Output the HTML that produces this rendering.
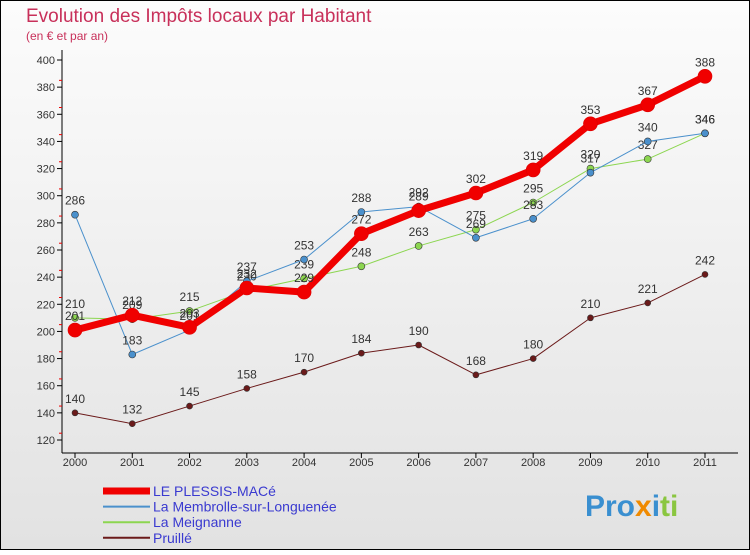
<!DOCTYPE html>
<html><head><meta charset="utf-8"><style>
body{margin:0;width:750px;height:550px;overflow:hidden;font-family:"Liberation Sans",sans-serif}
</style></head><body>
<svg width="750" height="550" xmlns="http://www.w3.org/2000/svg">
<defs><linearGradient id="bg" x1="0" y1="0" x2="0" y2="1"><stop offset="0" stop-color="#fcfcfc"/><stop offset="1" stop-color="#e2e2e2"/></linearGradient></defs>
<rect x="0.5" y="0.5" width="749" height="549" fill="url(#bg)" stroke="#000"/>
<text x="26" y="22" font-size="19" fill="#c8305a">Evolution des Impôts locaux par Habitant</text>
<text x="26" y="40" font-size="12" fill="#c8305a">(en € et par an)</text>
<g id="axes"></g>
<g id="series"></g>
<g id="legend"></g>
<text x="585" y="516" font-size="30" font-weight="bold"><tspan fill="#3a8fd0">Pro</tspan><tspan fill="#f08a00">x</tspan><tspan fill="#3a8fd0">i</tspan><tspan fill="#8ac640">ti</tspan></text>
</svg>
<script>
const years=["2000","2001","2002","2003","2004","2005","2006","2007","2008","2009","2010","2011"];
const yTicks=[120,140,160,180,200,220,240,260,280,300,320,340,360,380,400];
const plessis=[201,212,203,232,229,272,289,302,319,353,367,388];
const membrolle=[286,183,201,237,253,288,292,269,283,317,340,346];
const meignanne=[210,209,215,230,239,248,263,275,295,320,327,346];
const pruille=[140,132,145,158,170,184,190,168,180,210,221,242];
const NS="http://www.w3.org/2000/svg";
function X(i){return 75+i*(705-75)/11;}
function Y(v){return 60+(400-v)*(380/280);}
function mk(t,a,p){const e=document.createElementNS(NS,t);for(const k in a)e.setAttribute(k,a[k]);p.appendChild(e);return e;}
const ax=document.getElementById('axes');
let l=mk('line',{x1:62,y1:50,x2:62,y2:453,stroke:'#000'},ax);


l=mk('line',{x1:62,y1:453,x2:738,y2:453,stroke:'#000'},ax);


yTicks.forEach((v,i)=>{
 const y=Y(v);
 mk('line',{x1:57,y1:y,x2:62,y2:y,stroke:'#000'},ax);
 if(i<yTicks.length-1)mk('line',{x1:59,y1:y-6.8,x2:62,y2:y-6.8,stroke:'#e00'},ax);
 const t=mk('text',{x:55,y:y+4,'font-size':11,'text-anchor':'end',fill:'#333'},ax);t.textContent=v;
 
 
});
years.forEach((yr,i)=>{
 const x=X(i);
 mk('line',{x1:x,y1:453,x2:x,y2:458,stroke:'#000'},ax);
 const t=mk('text',{x:x,y:466,'font-size':11,'text-anchor':'middle',fill:'#333'},ax);t.textContent=yr;
 
 
});
const sg=document.getElementById('series');
const defs=[
 {d:pruille,c:'#6b1a1a',w:1,r:3,n:'pruille'},
 {d:meignanne,c:'#8cd650',w:1,r:3.5,n:'meignanne'},
 {d:membrolle,c:'#4a90cc',w:1,r:3.5,n:'membrolle'},
 {d:plessis,c:'#f00000',w:7,r:7,n:'plessis'}
];
defs.forEach(s=>{
 const g=mk('g',{},sg);
 
 
 const pl=mk('polyline',{points:s.d.map((v,i)=>X(i)+','+Y(v)).join(' '),fill:'none',stroke:s.c,'stroke-width':s.w,'stroke-linejoin':'round'},g);
 
 
 s.d.forEach((v,i)=>{
  const c=mk('circle',{cx:X(i),cy:Y(v),r:s.r,fill:s.c,stroke:s.w>1?'#d00':'#333','stroke-width':0.6},g);
  
  
  const t=mk('text',{x:X(i),y:Y(v)-10,'font-size':12,'text-anchor':'middle',fill:'#333'},g);t.textContent=v;
  
  
 });
});
const lg=document.getElementById('legend');
const ln=[["LE PLESSIS-MACé",'#f00000',7],["La Membrolle-sur-Longuenée",'#4a90cc',2],["La Meignanne",'#8cd650',2],["Pruillé",'#6b1a1a',2]];
ln.forEach((e,i)=>{
 const y=491+i*15.6;
 const li=mk('line',{x1:103,y1:y,x2:150,y2:y,stroke:e[1],'stroke-width':e[2]},lg);
 
 
 const t=mk('text',{x:153,y:y+5,'font-size':14,fill:'#3a3ad0'},lg);t.textContent=e[0];
 
 
});
</script>
</body></html>
